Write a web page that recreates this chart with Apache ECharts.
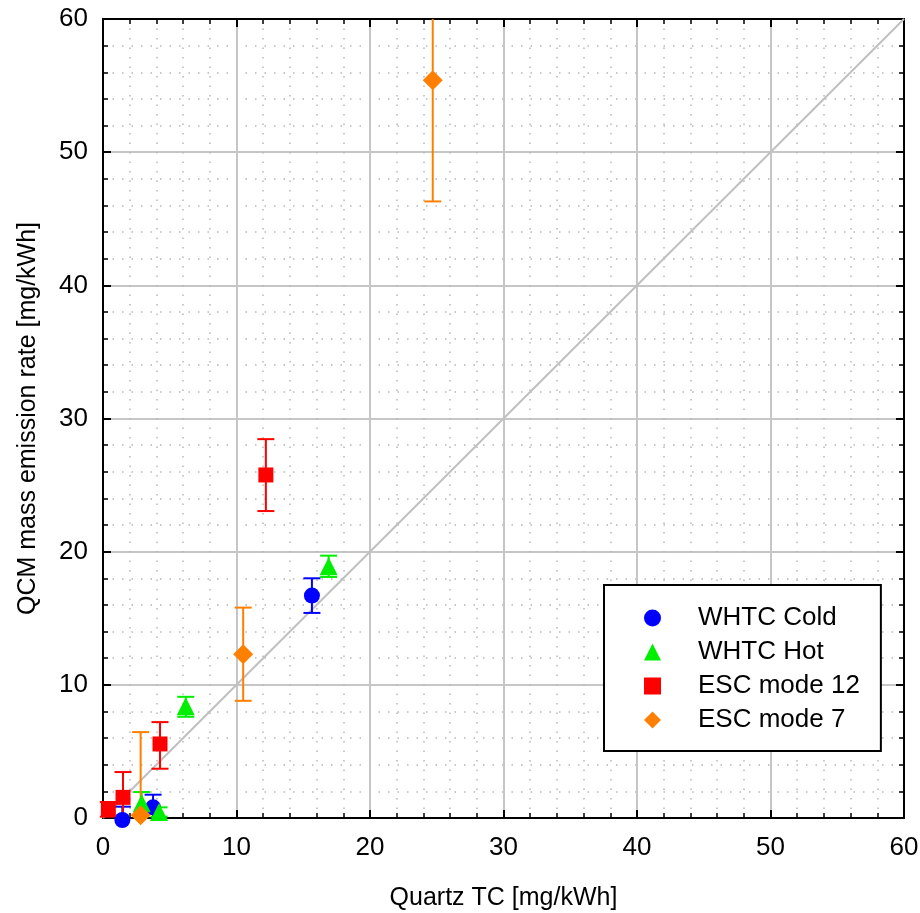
<!DOCTYPE html>
<html>
<head>
<meta charset="utf-8">
<script src="https://cdn.jsdelivr.net/npm/echarts@6/dist/echarts.min.js"></script>
<style>
html,body{margin:0;padding:0;background:#fff;}
#chart{width:920px;height:913px;}
</style>
</head>
<body>
<div id="chart"></div>
<script>
// ---- data ----
const xTicks = [0, 10, 20, 30, 40, 50, 60];
const yTicks = [0, 10, 20, 30, 40, 50, 60];

const seriesNames = ['WHTC Cold', 'WHTC Hot', 'ESC mode 12', 'ESC mode 7'];

const coldX    = [15.65, 3.75, 1.45];
const coldY    = [16.7, 0.8, -0.15];
const coldLow  = [15.4, -0.1, -1.0];
const coldHigh = [18.0, 1.75, 0.85];

const hotX    = [16.9, 6.2, 2.9, 4.2];
const hotY    = [18.9, 8.4, 1.1, 0.45];
const hotLow  = [18.1, 7.6, 0.3, 0.1];
const hotHigh = [19.7, 9.1, 1.95, 0.8];

const esc12X    = [12.2, 4.27, 1.5, 0.4];
const esc12Y    = [25.76, 5.56, 1.55, 0.65];
const esc12Low  = [23.05, 3.7, -0.4, 0.1];
const esc12High = [28.45, 7.2, 3.45, 1.2];

const esc7X    = [24.7, 10.5, 2.82];
const esc7Y    = [55.4, 12.3, 0.2];
const esc7Low  = [46.3, 8.8, -6.0];
const esc7High = [64.5, 15.8, 6.45];

const identityLine = [[0, 0], [60, 60]];

// ---- chart ----
const FONT = '"Liberation Sans", Arial, sans-serif';
const AXMIN = 0, AXMAX = 60;

function pts(xs, ys) { return xs.map((x, i) => [x, ys[i]]); }
function errs(xs, lo, hi) { return xs.map((x, i) => [x, lo[i], hi[i]]); }

function errSeries(name, color, data) {
  return {
    type: 'custom',
    name: name,
    silent: true,
    z: 3,
    data: data,
    encode: { x: 0, y: [1, 2] },
    renderItem: function (params, api) {
      const x = api.value(0), lo = api.value(1), hi = api.value(2);
      const loC = Math.max(lo, AXMIN), hiC = Math.min(hi, AXMAX);
      const p1 = api.coord([x, loC]);
      const p2 = api.coord([x, hiC]);
      const hw = 8.5;
      const st = { stroke: color, lineWidth: 2 };
      const ch = [{ type: 'line', shape: { x1: p1[0], y1: p1[1], x2: p2[0], y2: p2[1] }, style: st }];
      if (lo >= AXMIN) ch.push({ type: 'line', shape: { x1: p1[0] - hw, y1: p1[1], x2: p1[0] + hw, y2: p1[1] }, style: st });
      if (hi <= AXMAX) ch.push({ type: 'line', shape: { x1: p2[0] - hw, y1: p2[1], x2: p2[0] + hw, y2: p2[1] }, style: st });
      return { type: 'group', children: ch };
    }
  };
}

function scatterSeries(name, color, symbol, size, data, z) {
  return {
    type: 'scatter',
    name: name,
    symbol: symbol,
    symbolSize: size,
    itemStyle: { color: color, opacity: 1 },
    z: z,
    clip: false,
    data: data
  };
}

const gridColor = '#c6c6c6';
const minorColor = '#b8b8b8';

function mainAxis(extra) {
  return Object.assign({
    type: 'value',
    min: AXMIN, max: AXMAX, interval: 10,
    axisLine: { show: true, onZero: false, lineStyle: { color: '#000', width: 2 } },
    axisTick: { show: true, inside: true, length: 8, lineStyle: { color: '#000', width: 2 } },
    minorTick: { show: true, splitNumber: 5, length: 5, lineStyle: { color: '#000', width: 1.5 } },
    splitLine: { show: true, lineStyle: { color: gridColor, width: 2 } },
    minorSplitLine: { show: true, lineStyle: { color: minorColor, width: 1.5, type: [1.5, 8] } },
    axisLabel: { color: '#000', fontFamily: FONT, fontSize: 26 },
    nameTextStyle: { color: '#000', fontFamily: FONT, fontSize: 25 }
  }, extra);
}

function mirrorAxis(extra) {
  return Object.assign({
    type: 'value',
    min: AXMIN, max: AXMAX, interval: 10,
    axisLine: { show: true, onZero: false, lineStyle: { color: '#000', width: 2 } },
    axisTick: { show: true, inside: true, length: 8, lineStyle: { color: '#000', width: 2 } },
    minorTick: { show: true, splitNumber: 5, length: 5, lineStyle: { color: '#000', width: 1.5 } },
    splitLine: { show: false },
    minorSplitLine: { show: false },
    axisLabel: { show: false }
  }, extra);
}

const chart = echarts.init(document.getElementById('chart'), null, { renderer: 'canvas' });

const option = {
  animation: false,
  backgroundColor: '#fff',
  grid: { left: 103, right: 16, top: 19, bottom: 95, containLabel: false, outerBoundsMode: 'none' },
  xAxis: [
    mainAxis({
      position: 'bottom',
      name: 'Quartz TC [mg/kWh]',
      nameLocation: 'middle',
      nameGap: 68,
      axisLabel: { color: '#000', fontFamily: FONT, fontSize: 26, margin: 17,
        formatter: v => xTicks.indexOf(v) >= 0 ? String(v) : '' }
    }),
    mirrorAxis({ position: 'top' })
  ],
  yAxis: [
    mainAxis({
      position: 'left',
      name: 'QCM mass emission rate [mg/kWh]',
      nameLocation: 'middle',
      nameGap: 62,
      axisLabel: { color: '#000', fontFamily: FONT, fontSize: 26, margin: 15,
        formatter: v => yTicks.indexOf(v) >= 0 ? String(v) : '' }
    }),
    mirrorAxis({ position: 'right' })
  ],
  legend: {
    data: seriesNames,
    orient: 'vertical',
    left: 604,
    top: 585,
    padding: [20, 21, 18, 40],
    itemWidth: 17,
    itemHeight: 17,
    itemGap: 8,
    backgroundColor: '#fff',
    borderColor: '#000',
    borderWidth: 2,
    borderRadius: 0,
    selectedMode: false,
    textStyle: { color: '#000', fontFamily: FONT, fontSize: 26, padding: [0, 0, 0, 32] }
  },
  series: [
    {
      type: 'line',
      name: 'identity',
      data: identityLine,
      symbol: 'none',
      silent: true,
      z: 1,
      lineStyle: { color: '#c0c0c0', width: 2 }
    },
    errSeries('err-cold', '#0000ff', errs(coldX, coldLow, coldHigh)),
    scatterSeries('WHTC Cold', '#0000ff', 'circle', 16, pts(coldX, coldY), 4),
    errSeries('err-hot', '#00ee00', errs(hotX, hotLow, hotHigh)),
    scatterSeries('WHTC Hot', '#00ee00', 'triangle', 18, pts(hotX, hotY), 4),
    errSeries('err-esc12', '#ff0000', errs(esc12X, esc12Low, esc12High)),
    scatterSeries('ESC mode 12', '#ff0000', 'rect', 15, pts(esc12X, esc12Y), 4),
    errSeries('err-esc7', '#ff8000', errs(esc7X, esc7Low, esc7High)),
    scatterSeries('ESC mode 7', '#ff8000', 'diamond', 20, pts(esc7X, esc7Y), 4)
  ]
};

chart.setOption(option);
</script>
</body>
</html>
